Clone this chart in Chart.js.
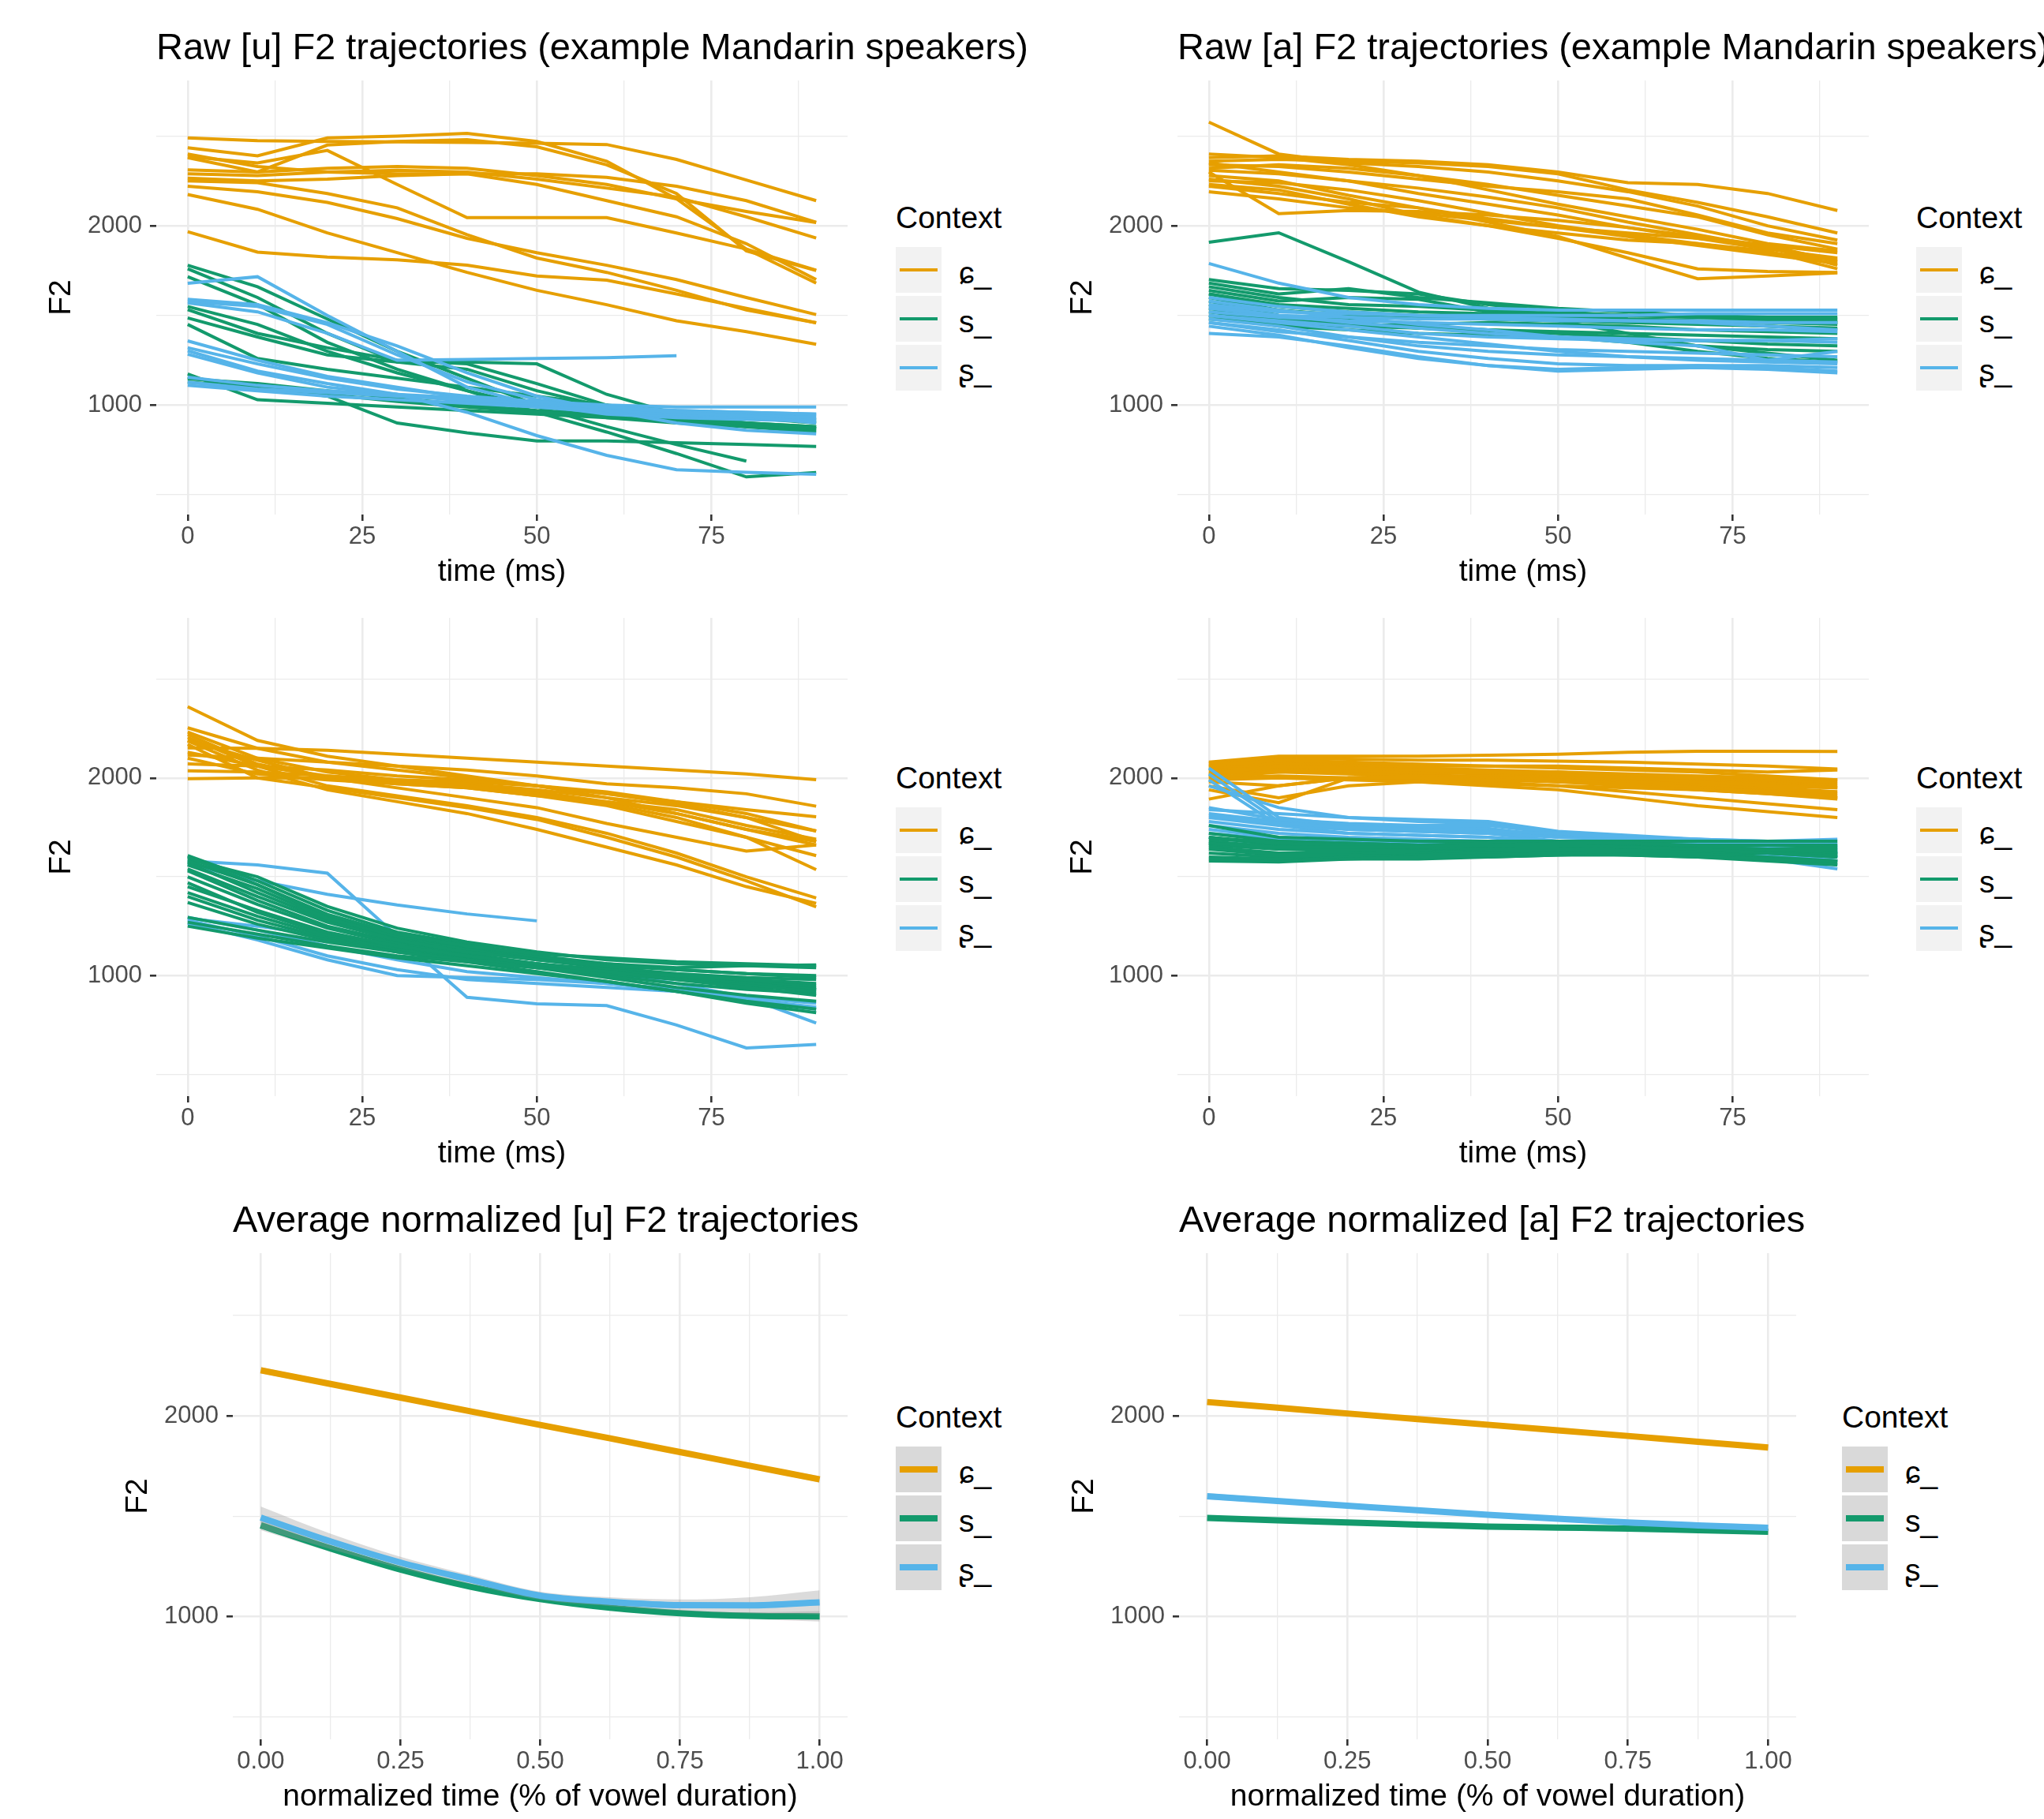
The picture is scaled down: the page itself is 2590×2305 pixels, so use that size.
<!DOCTYPE html>
<html>
<head>
<meta charset="utf-8">
<script src="https://cdn.jsdelivr.net/npm/chart.js@4.4.0/dist/chart.umd.min.js"></script>
<style>
  html, body { margin: 0; padding: 0; background: #fff; overflow: hidden; }
  body { width: 2590px; height: 2305px; position: relative; font-family: 'Liberation Sans', 'DejaVu Sans', sans-serif; }
  canvas { position: absolute; }
  .txt { position: absolute; white-space: nowrap; color: #000; }
  .key { position: absolute; width: 58px; height: 58px; }
  .key i { position: absolute; left: 5px; right: 5px; }
</style>
</head>
<body>
<script>
// time axis of the raw tracks (ms) and of the averaged curves (proportion)
const timeMs = [0, 10, 20, 30, 40, 50, 60, 70, 80, 90];
const normTime = [0, 0.125, 0.25, 0.375, 0.5, 0.625, 0.75, 0.875, 1];

const contexts = ['ɕ_', 's_', 'ʂ_'];
const contextColors = ['#E69F00', '#139A6C', '#56B4E9'];

const yMajorTicks = [1000, 2000];
const yMinorTicks = [500, 1500, 2500];
const msMajorTicks = [0, 25, 50, 75];
const msMinorTicks = [12.5, 37.5, 62.5, 87.5];
const normMajorTicks = [0, 0.25, 0.5, 0.75, 1];
const normMinorTicks = [0.125, 0.375, 0.625, 0.875];

// ---- speaker 1, [u] ----
const uSpk1Alveolopalatal = [
  [2490, 2475, 2470, 2468, 2465, 2460, 2453, 2370, 2255, 2140],
  [2435, 2390, 2490, 2500, 2515, 2470, 2360, 2150, 1870, 1680],
  [2380, 2300, 2450, 2470, 2480, 2440, 2340, 2180, 1860, 1750],
  [2385, 2350, 2420, 2230, 2045, 2045, 2045, 1960, 1870, 1752],
  [2312, 2300, 2320, 2330, 2320, 2280, 2230, 2150, 2080, 2018],
  [2290, 2280, 2300, 2310, 2300, 2260, 2210, 2160, 2050, 1932],
  [2266, 2250, 2260, 2280, 2290, 2230, 2140, 2050, 1900, 1700],
  [2220, 2190, 2130, 2040, 1930, 1850, 1780, 1700, 1600, 1505],
  [2174, 2092, 1960, 1850, 1740, 1640, 1560, 1470, 1410, 1339],
  [1967, 1853, 1826, 1810, 1780, 1720, 1697, 1620, 1540, 1459],
  [2250, 2240, 2180, 2100, 1950, 1820, 1740, 1640, 1530, 1459],
  [2400, 2330, 2300, 2290, 2290, 2290, 2270, 2220, 2140, 2020]
];
const uSpk1Alveolar = [
  [1780, 1660, 1480, 1300, 1150, 1000, 930, 900, 880, 860],
  [1760, 1600, 1400, 1240, 1240, 1230, 1060, 950, 900, 870],
  [1716, 1560, 1350, 1200, 1080, 990, 880, 780, 688],
  [1550, 1450, 1300, 1180, 1080, 960, 850, 730, 600, 624],
  [1532, 1400, 1320, 1250, 1230, 1120, 1000, 920, 880, 850],
  [1486, 1380, 1280, 1240, 1200, 1080, 990, 940, 900, 880],
  [1450, 1260, 1200, 1150, 1100, 1050, 1000, 960, 930, 900],
  [1174, 1030, 1010, 990, 970, 950, 930, 910, 890, 870],
  [1156, 1100, 1050, 900, 845, 800, 800, 790, 780, 770],
  [1147, 1120, 1080, 1040, 1000, 970, 950, 940, 930, 920],
  [1128, 1100, 1060, 1020, 990, 960, 940, 920, 900, 880]
];
const uSpk1Retroflex = [
  [1679, 1716, 1500, 1300, 1100, 1000, 950, 930, 920, 910],
  [1578, 1550, 1450, 1280, 1130, 1030, 980, 960, 950, 940],
  [1570, 1520, 1400, 1250, 1255, 1260, 1265, 1275],
  [1358, 1250, 1160, 1100, 1040, 1000, 980, 970, 960, 950],
  [1303, 1190, 1120, 1060, 960, 830, 720, 640, 625, 614],
  [1284, 1180, 1100, 1060, 1020, 990, 960, 940, 930, 920],
  [1156, 1110, 1080, 1060, 1040, 1020, 1000, 990, 990, 990],
  [1128, 1090, 1070, 1050, 1030, 1010, 990, 970, 960, 950],
  [1110, 1080, 1050, 1030, 1010, 990, 970, 950, 940, 930],
  [1320, 1230, 1150, 1090, 1050, 1020, 990, 960, 940, 900],
  [1590, 1560, 1460, 1330, 1180, 1050, 970, 900, 860, 840]
];

// ---- speaker 1, [a] ----
const aSpk1Alveolopalatal = [
  [2578, 2400, 2350, 2330, 2300, 2250, 2190, 2110, 2000, 1920],
  [2380, 2390, 2370, 2360, 2340, 2300, 2240, 2230, 2180, 2085],
  [2360, 2370, 2360, 2350, 2330, 2290, 2200, 2130, 2050, 1960],
  [2340, 2330, 2300, 2260, 2220, 2190, 2150, 2060, 1960, 1900],
  [2320, 2340, 2320, 2280, 2230, 2170, 2110, 2050, 1950, 1870],
  [2300, 2068, 2085, 2080, 2060, 2030, 1990, 1940, 1890, 1850],
  [2280, 2250, 2170, 2100, 2040, 1990, 1960, 1930, 1890, 1800],
  [2260, 2220, 2150, 2060, 2000, 1960, 1920, 1900, 1860, 1760],
  [2230, 2200, 2120, 2050, 2000, 1930, 1850, 1760, 1745, 1740],
  [2220, 2180, 2130, 2100, 2020, 1940, 1820, 1705, 1720, 1737],
  [2350, 2300, 2250, 2180, 2120, 2060, 1990, 1930, 1870, 1820],
  [2400, 2380, 2340, 2280, 2200, 2120, 2050, 1980, 1900, 1860],
  [2310, 2290, 2250, 2210, 2160, 2100, 2020, 1950, 1880, 1780],
  [2190, 2150, 2100, 2070, 2030, 1990, 1940, 1890, 1840, 1790],
  [2250, 2240, 2200, 2140, 2070, 2000, 1950, 1900, 1850, 1810]
];
const aSpk1Alveolar = [
  [1908, 1961, 1800, 1630, 1540, 1500, 1480, 1470, 1460, 1450],
  [1700, 1650, 1640, 1620, 1560, 1520, 1500, 1490, 1480, 1470],
  [1680, 1620, 1650, 1600, 1570, 1540, 1520, 1500, 1490, 1480],
  [1660, 1600, 1560, 1550, 1530, 1510, 1500, 1490, 1480, 1460],
  [1640, 1580, 1600, 1590, 1520, 1500, 1480, 1470, 1470, 1460],
  [1620, 1550, 1520, 1500, 1480, 1470, 1400, 1330, 1310, 1300],
  [1600, 1530, 1500, 1480, 1500, 1490, 1470, 1460, 1440, 1430],
  [1580, 1500, 1460, 1430, 1410, 1400, 1380, 1360, 1340, 1330],
  [1560, 1480, 1450, 1440, 1420, 1400, 1370, 1330, 1290, 1250],
  [1540, 1460, 1440, 1450, 1460, 1450, 1440, 1420, 1410, 1400],
  [1520, 1470, 1480, 1490, 1480, 1470, 1460, 1450, 1440, 1420],
  [1500, 1440, 1420, 1400, 1390, 1380, 1350, 1300, 1260, 1240],
  [1620, 1560, 1540, 1520, 1510, 1500, 1500, 1490, 1490, 1490],
  [1480, 1450, 1440, 1430, 1420, 1410, 1400, 1390, 1380, 1370]
];
const aSpk1Retroflex = [
  [1790, 1680, 1600, 1560, 1540, 1530, 1530, 1530, 1530, 1530],
  [1560, 1520, 1510, 1500, 1500, 1500, 1500, 1510, 1510, 1510],
  [1540, 1500, 1490, 1480, 1480, 1470, 1470, 1470, 1460, 1460],
  [1520, 1490, 1470, 1460, 1450, 1440, 1430, 1420, 1420, 1410],
  [1500, 1470, 1440, 1400, 1380, 1370, 1360, 1360, 1360, 1350],
  [1480, 1440, 1380, 1330, 1300, 1280, 1270, 1260, 1250, 1240],
  [1460, 1420, 1360, 1300, 1260, 1230, 1220, 1220, 1220, 1210],
  [1440, 1390, 1320, 1260, 1220, 1200, 1210, 1220, 1210, 1190],
  [1400, 1380, 1330, 1270, 1220, 1190, 1200, 1210, 1200, 1180],
  [1580, 1530, 1490, 1450, 1420, 1380, 1350, 1330, 1250, 1300],
  [1500, 1460, 1420, 1380, 1340, 1300, 1270, 1250, 1240, 1230],
  [1600, 1550, 1520, 1500, 1490, 1480, 1470, 1460, 1440, 1420],
  [1550, 1500, 1460, 1430, 1400, 1380, 1370, 1360, 1360, 1370],
  [1460, 1410, 1380, 1350, 1330, 1310, 1300, 1290, 1280, 1270]
];

// ---- speaker 2, [u] ----
const uSpk2Alveolopalatal = [
  [2361, 2190, 2110, 2060, 2010, 1960, 1900, 1820, 1740, 1661],
  [2254, 2150, 2080, 2040, 2000, 1960, 1920, 1870, 1800, 1732],
  [2232, 2100, 2030, 1990, 1960, 1930, 1880, 1820, 1740, 1679],
  [2205, 2060, 1960, 1910, 1860, 1800, 1720, 1620, 1500, 1393],
  [2187, 2040, 1940, 1880, 1820, 1740, 1650, 1560, 1450, 1366],
  [2170, 2000, 1950, 1900, 1850, 1790, 1700, 1600, 1480, 1348],
  [2152, 2150, 2140, 2120, 2100, 2080, 2060, 2040, 2020, 1991],
  [2116, 2100, 2080, 2060, 2040, 2010, 1970, 1950, 1920, 1857],
  [2071, 2060, 2040, 2010, 1990, 1960, 1920, 1880, 1840, 1804],
  [2036, 2030, 2010, 1990, 1980, 1960, 1930, 1880, 1820, 1732],
  [1996, 2000, 2000, 1990, 1970, 1940, 1900, 1860, 1800, 1679],
  [2220, 2070, 2000, 1970, 1950, 1910, 1860, 1780, 1700, 1607],
  [2130, 2060, 2010, 1980, 1960, 1920, 1870, 1800, 1700, 1536],
  [2190, 2090, 2000, 1950, 1900, 1850, 1770, 1700, 1630, 1661],
  [2100, 2020, 1990, 1970, 1950, 1910, 1880, 1840, 1760, 1690]
];
const uSpk2Alveolar = [
  [1607, 1480, 1330, 1220, 1160, 1100, 1060, 1040, 1050, 1054],
  [1590, 1500, 1350, 1240, 1170, 1120, 1080, 1060, 1050, 1040],
  [1580, 1460, 1300, 1200, 1140, 1090, 1060, 1030, 1010, 1000],
  [1571, 1420, 1280, 1190, 1130, 1080, 1040, 1010, 990, 980],
  [1560, 1440, 1290, 1200, 1150, 1100, 1050, 1000, 960, 930],
  [1530, 1380, 1250, 1170, 1110, 1060, 1020, 990, 960, 940],
  [1500, 1360, 1240, 1160, 1100, 1060, 1030, 1000, 970, 950],
  [1470, 1320, 1210, 1140, 1090, 1050, 1020, 990, 960, 930],
  [1420, 1300, 1200, 1130, 1080, 1040, 990, 940, 900, 870],
  [1400, 1280, 1190, 1120, 1070, 1020, 970, 920, 870, 830],
  [1370, 1260, 1180, 1120, 1080, 1040, 1000, 960, 930, 910],
  [1295, 1230, 1170, 1120, 1080, 1050, 1020, 1000, 980, 960],
  [1270, 1210, 1150, 1100, 1070, 1040, 1010, 980, 950, 920],
  [1250, 1190, 1140, 1090, 1050, 1010, 970, 920, 860, 812],
  [1540, 1400, 1270, 1180, 1120, 1080, 1050, 1030, 1010, 990],
  [1600, 1460, 1310, 1210, 1150, 1110, 1090, 1070, 1060, 1050],
  [1450, 1330, 1220, 1150, 1100, 1060, 1020, 980, 940, 900]
];
const uSpk2Retroflex = [
  [1580, 1560, 1518, 1200, 890, 857, 848, 750, 634, 652],
  [1563, 1480, 1411, 1357, 1312, 1277],
  [1295, 1230, 1150, 1080, 1020, 990, 960, 930, 870, 830],
  [1280, 1200, 1100, 1030, 980, 960, 940, 920, 880, 840],
  [1265, 1180, 1080, 1000, 990, 980, 960, 930, 890, 760],
  [1290, 1250, 1200, 1150, 1100, 1060, 1010, 960, 890, 860]
];

// ---- speaker 2, [a] ----
const aSpk2Alveolopalatal = [
  [2080, 2110, 2110, 2110, 2115, 2120, 2130, 2135, 2135, 2134],
  [2075, 2100, 2095, 2090, 2090, 2085, 2080, 2070, 2060, 2045],
  [2070, 2080, 2070, 2060, 2060, 2060, 2050, 2040, 2030, 2040],
  [2060, 2070, 2060, 2050, 2040, 2030, 2010, 1990, 1980, 1970],
  [2050, 2060, 2050, 2040, 2030, 2020, 2010, 2000, 1990, 1980],
  [2040, 2050, 2040, 2030, 2020, 2010, 2000, 1980, 1960, 1950],
  [2030, 2040, 2030, 2020, 2000, 1990, 1980, 1960, 1940, 1920],
  [2020, 2030, 2020, 2010, 2000, 1980, 1970, 1950, 1930, 1910],
  [2010, 2000, 2000, 1990, 1980, 1960, 1930, 1900, 1870, 1840],
  [2000, 2010, 2000, 1980, 1960, 1940, 1900, 1860, 1830, 1800],
  [1990, 2000, 1990, 1980, 1970, 1960, 1950, 1940, 1920, 1900],
  [1980, 1960, 2000, 2010, 2010, 2000, 1990, 1980, 1970, 1960],
  [1960, 1900, 1960, 1980, 1990, 1990, 1980, 1970, 1950, 1930],
  [1940, 1875, 2000, 2010, 2000, 1990, 1970, 1950, 1930, 1900],
  [1893, 1960, 2000, 2000, 1990, 1980, 1960, 1940, 1920, 1893],
  [2060, 2090, 2080, 2070, 2060, 2050, 2040, 2030, 2010, 1990],
  [2000, 2030, 2040, 2030, 2030, 2020, 2000, 1980, 1960, 1950],
  [2020, 2060, 2050, 2040, 2030, 2030, 2020, 2010, 2000, 1990]
];
const aSpk2Alveolar = [
  [1760, 1700, 1690, 1680, 1680, 1680, 1680, 1680, 1680, 1680],
  [1720, 1680, 1670, 1660, 1670, 1670, 1660, 1650, 1640, 1630],
  [1700, 1660, 1660, 1650, 1650, 1660, 1660, 1650, 1640, 1620],
  [1690, 1680, 1670, 1660, 1660, 1670, 1670, 1660, 1660, 1660],
  [1680, 1650, 1640, 1640, 1640, 1650, 1650, 1640, 1630, 1610],
  [1670, 1640, 1630, 1620, 1630, 1640, 1640, 1630, 1620, 1600],
  [1660, 1640, 1640, 1630, 1620, 1630, 1630, 1620, 1600, 1580],
  [1650, 1620, 1620, 1620, 1610, 1620, 1620, 1610, 1590, 1570],
  [1640, 1610, 1610, 1600, 1610, 1620, 1610, 1600, 1580, 1560],
  [1620, 1600, 1600, 1600, 1600, 1610, 1610, 1600, 1590, 1580],
  [1600, 1590, 1590, 1590, 1600, 1610, 1620, 1620, 1620, 1620],
  [1590, 1580, 1600, 1610, 1620, 1630, 1640, 1640, 1640, 1650],
  [1580, 1575, 1590, 1600, 1610, 1620, 1630, 1630, 1620, 1610],
  [1700, 1670, 1660, 1650, 1640, 1640, 1640, 1640, 1640, 1640],
  [1670, 1650, 1650, 1650, 1660, 1660, 1650, 1640, 1620, 1600]
];
const aSpk2Retroflex = [
  [2050, 1800, 1760, 1750, 1745, 1700, 1690, 1670, 1650, 1620],
  [2020, 1780, 1740, 1730, 1720, 1680, 1670, 1650, 1630, 1600],
  [1990, 1760, 1720, 1710, 1700, 1670, 1660, 1640, 1620, 1580],
  [1960, 1850, 1800, 1780, 1770, 1720, 1700, 1680, 1660, 1640],
  [1840, 1820, 1800, 1790, 1780, 1730, 1710, 1690, 1670, 1650],
  [1820, 1780, 1760, 1750, 1740, 1710, 1700, 1690, 1680, 1670],
  [1800, 1760, 1740, 1730, 1720, 1700, 1690, 1680, 1670, 1660],
  [1780, 1740, 1720, 1710, 1700, 1680, 1670, 1660, 1640, 1620],
  [1760, 1720, 1700, 1690, 1680, 1670, 1660, 1640, 1610, 1560],
  [1740, 1700, 1690, 1680, 1670, 1660, 1650, 1630, 1590, 1540],
  [1720, 1690, 1680, 1670, 1660, 1650, 1640, 1620, 1600, 1580],
  [1700, 1660, 1650, 1650, 1640, 1640, 1630, 1620, 1610, 1600],
  [1850, 1790, 1770, 1760, 1760, 1720, 1690, 1670, 1650, 1630],
  [1810, 1770, 1750, 1740, 1730, 1720, 1700, 1690, 1680, 1690]
];

// ---- averaged, normalized trajectories (mean and ribbon half-width) ----
const uMeanAlveolopalatal = [2227, 2159, 2091, 2023, 1955, 1888, 1820, 1752, 1684];
const uMeanAlveolar = [1455, 1340, 1235, 1150, 1088, 1045, 1018, 1005, 1002];
const uMeanRetroflex = [1494, 1375, 1270, 1185, 1105, 1075, 1058, 1057, 1072];
const uSeAlveolopalatal = [16, 12, 10, 9, 9, 9, 10, 12, 16];
const uSeAlveolar = [24, 17, 13, 11, 10, 11, 13, 17, 26];
const uSeRetroflex = [55, 38, 28, 22, 20, 22, 28, 40, 60];

const aMeanAlveolopalatal = [2069, 2041, 2012, 1984, 1956, 1928, 1900, 1871, 1843];
const aMeanAlveolar = [1492, 1480, 1469, 1459, 1449, 1444, 1439, 1431, 1423];
const aMeanRetroflex = [1600, 1576, 1553, 1530, 1508, 1488, 1469, 1455, 1443];
const aSeAlveolopalatal = [12, 9, 8, 7, 7, 7, 8, 9, 12];
const aSeAlveolar = [12, 9, 8, 7, 7, 7, 8, 9, 12];
const aSeRetroflex = [16, 12, 10, 9, 9, 9, 10, 12, 16];

const FONT = "'Liberation Sans', 'DejaVu Sans', sans-serif";
Chart.defaults.font.family = FONT;

const Y_AXIS_W = 190, PAD_T = 40, PAD_R = 40, X_AXIS_H = 100;

function addText(text, size, left, baseline) {
  const d = document.createElement('div');
  d.className = 'txt';
  d.textContent = text;
  d.style.fontSize = size + 'px';
  d.style.lineHeight = (size * 1.2) + 'px';
  d.style.left = left + 'px';
  d.style.top = (baseline - 0.9465 * size) + 'px';
  document.body.appendChild(d);
}

function addLegend(left, titleCenter, lineW, keyBg) {
  addText('Context', 39, left, titleCenter + 14);
  contexts.forEach((lab, i) => {
    const top = titleCenter + 37 + i * 62;
    const k = document.createElement('div');
    k.className = 'key';
    k.style.left = left + 'px';
    k.style.top = top + 'px';
    k.style.background = keyBg;
    const ln = document.createElement('i');
    ln.style.background = contextColors[i];
    ln.style.height = lineW + 'px';
    ln.style.top = (29 - lineW / 2) + 'px';
    k.appendChild(ln);
    document.body.appendChild(k);
    addText(lab, 39, left + 80, top + 29 + 18);
  });
}

function axis(a) {
  const isMajor = c => c.tick && a.major.includes(c.tick.value);
  return {
    type: 'linear', bounds: 'data', min: a.min, max: a.max,
    afterBuildTicks: s => {
      s.ticks = a.major.concat(a.minor).sort((p, q) => p - q).map(v => ({ value: v }));
    },
    afterFit: a.fit,
    ticks: {
      autoSkip: false, maxRotation: 0, minRotation: 0, padding: a.tickPad,
      color: '#4D4D4D', font: { size: 31, family: FONT },
      callback: v => a.major.includes(v) ? a.fmt(v) : ''
    },
    grid: {
      color: '#EBEBEB',
      lineWidth: c => isMajor(c) ? 2.6 : 1.3,
      tickLength: 8, tickWidth: 2.6,
      tickColor: c => isMajor(c) ? '#333333' : 'rgba(0,0,0,0)'
    },
    border: { display: false },
    title: { display: true, text: a.title, color: '#000', font: { size: 39, family: FONT, lineHeight: 1.2 }, padding: a.titlePad }
  };
}

function makePanel(p) {
  const w = Math.round(p.right - p.left), h = Math.round(p.bottom - p.top);
  const cv = document.createElement('canvas');
  cv.width = Y_AXIS_W + w + PAD_R;
  cv.height = PAD_T + h + X_AXIS_H;
  cv.style.left = (Math.round(p.left) - Y_AXIS_W) + 'px';
  cv.style.top = (Math.round(p.top) - PAD_T) + 'px';
  document.body.appendChild(cv);

  new Chart(cv, {
    type: 'line',
    data: { datasets: p.datasets },
    options: {
      responsive: false, animation: false, devicePixelRatio: 1,
      layout: { padding: { top: PAD_T, right: PAD_R, left: 0, bottom: 0 } },
      plugins: { legend: { display: false }, tooltip: { enabled: false } },
      scales: {
        x: axis({
          min: p.xMin, max: p.xMax, major: p.xMajor, minor: p.xMinor, fmt: p.xFmt,
          title: p.xTitle, tickPad: 2, titlePad: { top: 0, bottom: 3.6 },
          fit: s => { s.height = X_AXIS_H; }
        }),
        y: axis({
          min: 390, max: 2810, major: yMajorTicks, minor: yMinorTicks, fmt: v => String(v),
          title: 'F2', tickPad: 10, titlePad: { top: 46.6, bottom: 0 },
          fit: s => { s.width = Y_AXIS_W; }
        })
      }
    }
  });

  if (p.title) addText(p.title, 47, Math.round(p.left), Math.round(p.top) - 27);
  addLegend(p.legendLeft, Math.round((p.top + p.bottom) / 2) - 100, p.keyLine, p.keyBg);
}

// raw tracks: first group drawn first (at the bottom)
function rawSets(groups) {
  const out = [];
  groups.forEach(([tracks, color]) => tracks.forEach(vals => out.push({
    data: vals.map((v, i) => ({ x: timeMs[i], y: v })),
    borderColor: color, borderWidth: 4, pointRadius: 0, tension: 0, fill: false
  })));
  out.forEach((d, i) => { d.order = out.length - i; });
  return out;
}

function smoothSets(groups) {
  const out = [];
  groups.forEach(([mean, se, color]) => {
    const pts = f => normTime.map((t, i) => ({ x: t, y: f(i) }));
    out.push({ data: pts(i => mean[i] - se[i]), borderWidth: 0, borderColor: 'rgba(0,0,0,0)',
      pointRadius: 0, fill: false, cubicInterpolationMode: 'monotone' });
    out.push({ data: pts(i => mean[i] + se[i]), borderWidth: 0, borderColor: 'rgba(0,0,0,0)',
      backgroundColor: 'rgba(153,153,153,0.35)', pointRadius: 0, fill: '-1', cubicInterpolationMode: 'monotone' });
    out.push({ data: pts(i => mean[i]), borderColor: color, borderWidth: 8, pointRadius: 0,
      fill: false, cubicInterpolationMode: 'monotone' });
  });
  out.forEach((d, i) => { d.order = out.length - i; });
  return out;
}

const msAxis = { xMin: -4.5, xMax: 94.5, xMajor: msMajorTicks, xMinor: msMinorTicks, xFmt: v => String(v), xTitle: 'time (ms)' };
const normAxis = { xMin: -0.05, xMax: 1.05, xMajor: normMajorTicks, xMinor: normMinorTicks, xFmt: v => v.toFixed(2), xTitle: 'normalized time (% of vowel duration)' };
const [cOr, cGr, cBl] = contextColors;

makePanel(Object.assign({
  left: 197.5, right: 1073.5, top: 101.5, bottom: 651,
  title: 'Raw [u] F2 trajectories (example Mandarin speakers)',
  legendLeft: 1135, keyLine: 4, keyBg: '#F2F2F2',
  datasets: rawSets([[uSpk1Alveolopalatal, cOr], [uSpk1Alveolar, cGr], [uSpk1Retroflex, cBl]])
}, msAxis));

makePanel(Object.assign({
  left: 1492, right: 2368, top: 101.5, bottom: 651,
  title: 'Raw [a] F2 trajectories (example Mandarin speakers)',
  legendLeft: 2428, keyLine: 4, keyBg: '#F2F2F2',
  datasets: rawSets([[aSpk1Alveolopalatal, cOr], [aSpk1Alveolar, cGr], [aSpk1Retroflex, cBl]])
}, msAxis));

makePanel(Object.assign({
  left: 197.5, right: 1073.5, top: 782.6, bottom: 1388.8,
  legendLeft: 1135, keyLine: 4, keyBg: '#F2F2F2',
  datasets: rawSets([[uSpk2Alveolopalatal, cOr], [uSpk2Retroflex, cBl], [uSpk2Alveolar, cGr]])
}, msAxis));

makePanel(Object.assign({
  left: 1492, right: 2368, top: 782.6, bottom: 1388.8,
  legendLeft: 2428, keyLine: 4, keyBg: '#F2F2F2',
  datasets: rawSets([[aSpk2Alveolopalatal, cOr], [aSpk2Retroflex, cBl], [aSpk2Alveolar, cGr]])
}, msAxis));

makePanel(Object.assign({
  left: 294.8, right: 1074.1, top: 1588, bottom: 2203.7,
  title: 'Average normalized [u] F2 trajectories',
  legendLeft: 1135, keyLine: 8, keyBg: '#D9D9D9',
  datasets: smoothSets([[uMeanAlveolopalatal, uSeAlveolopalatal, cOr], [uMeanAlveolar, uSeAlveolar, cGr], [uMeanRetroflex, uSeRetroflex, cBl]])
}, normAxis));

makePanel(Object.assign({
  left: 1493.5, right: 2275.5, top: 1588, bottom: 2203.7,
  title: 'Average normalized [a] F2 trajectories',
  legendLeft: 2334, keyLine: 8, keyBg: '#D9D9D9',
  datasets: smoothSets([[aMeanAlveolopalatal, aSeAlveolopalatal, cOr], [aMeanAlveolar, aSeAlveolar, cGr], [aMeanRetroflex, aSeRetroflex, cBl]])
}, normAxis));
</script>
</body>
</html>
